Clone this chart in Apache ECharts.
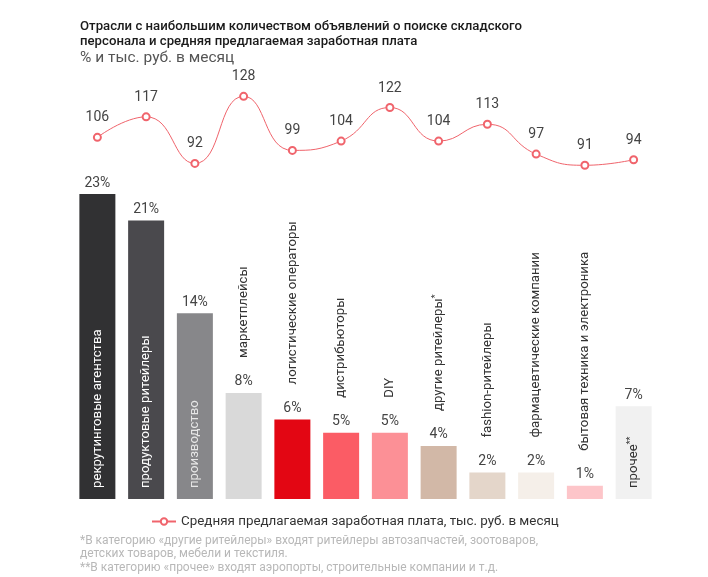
<!DOCTYPE html>
<html>
<head>
<meta charset="utf-8">
<script src="https://cdn.jsdelivr.net/npm/echarts@6/dist/echarts.min.js"></script>
<style>
  html, body { margin: 0; padding: 0; background: #fff; }
  #main { width: 708px; height: 577px; }
</style>
</head>
<body>
<div id="main"></div>
<script>
// отрасли
var categories = ['рекрутинговые агентства', 'продуктовые ритейлеры', 'производство', 'маркетплейсы',
    'логистические операторы', 'дистрибьюторы', 'DIY', 'другие ритейлеры*', 'fashion-ритейлеры',
    'фармацевтические компании', 'бытовая техника и электроника', 'прочее**'];
// доля объявлений, %
var shares = [23, 21, 14, 8, 6, 5, 5, 4, 2, 2, 1, 7];
// средняя зарплата, тыс. руб.
var salary = [106, 117, 92, 128, 99, 104, 122, 104, 113, 97, 91, 94];
var salaryName = 'Средняя предлагаемая заработная плата, тыс. руб. в месяц';

var barColors = ['#313133', '#4a494d', '#87878a', '#d9d9d9', '#e30613', '#fb5c65',
    '#fc9096', '#d2b8a7', '#e4d6ca', '#f5efe9', '#fdc5c9', '#f1f1f1'];
// подписи внутри столбца и их цвет
var inside = { 0: '#ffffff', 1: '#ffffff', 2: '#e6e6e6', 11: '#333333' };

var font = 'Roboto, "Noto Sans", sans-serif';

function nameLabel(name) {
    //звёздочки делаем надстрочными
    var m = name.match(/^(.*?)(\*+)$/);
    if (m) return m[1] + '{sup|' + m[2] + '}';
    return name;
}

var barData = shares.map(function (v, i) {
    return { value: v, itemStyle: { color: barColors[i] } };
});

var nameData = shares.map(function (v, i) {
    var lab;
    if (inside[i] !== undefined) {
        lab = { position: 'insideBottom', distance: 11, color: inside[i] };
    } else {
        lab = { position: 'top', distance: 35, color: '#333' };
    }
    return { value: v, label: lab };
});

var myChart = echarts.init(document.getElementById('main'));

var option = {
    backgroundColor: '#fff',
    animation: false,
    title: {
        text: 'Отрасли с наибольшим количеством объявлений о поиске складского\nперсонала и средняя предлагаемая заработная плата',
        subtext: '% и тыс. руб. в месяц',
        left: 75,
        top: 14,
        itemGap: 1,
        textStyle: { fontFamily: font, fontSize: 13.2, fontWeight: 500, color: '#1a1a1a', lineHeight: 15 },
        subtextStyle: { fontFamily: font, fontSize: 15.5, color: '#555', lineHeight: 16 }
    },
    legend: {
        data: [salaryName],
        left: 146,
        top: 510,
        itemWidth: 24,
        itemHeight: 8,
        itemGap: 4,
        textStyle: { fontFamily: font, fontSize: 13.4, color: '#333' }
    },
    grid: [
        { left: 73, right: 50, top: 167.5, bottom: 78 },
        { left: 73, right: 50, top: 92.6, bottom: 391.2 }
    ],
    xAxis: [
        { type: 'category', data: categories, gridIndex: 0, show: false },
        { type: 'category', data: categories, gridIndex: 1, show: false }
    ],
    yAxis: [
        { type: 'value', gridIndex: 0, min: 0, max: 25, show: false },
        { type: 'value', gridIndex: 1, min: 80, max: 130, show: false }
    ],
    graphic: [{
        type: 'text',
        left: 80,
        top: 534,
        style: {
            text: '*В категорию «другие ритейлеры» входят ритейлеры автозапчастей, зоотоваров,\nдетских товаров, мебели и текстиля.\n**В категорию «прочее» входят аэропорты, строительные компании и т.д.',
            font: '12px ' + font,
            fill: '#b8b8b8',
            lineHeight: 13.5
        }
    }],
    series: [
        {
            type: 'bar',
            xAxisIndex: 0,
            yAxisIndex: 0,
            barWidth: 36,
            data: barData,
            label: {
                show: true,
                position: 'top',
                distance: 4,
                formatter: '{c}%',
                fontFamily: font,
                fontSize: 14,
                color: '#444'
            }
        },
        {
            // подписи названий
            type: 'bar',
            xAxisIndex: 0,
            yAxisIndex: 0,
            barWidth: 36,
            barGap: '-100%',
            silent: true,
            itemStyle: { color: 'rgba(0,0,0,0)' },
            data: nameData,
            label: {
                show: true,
                rotate: 90,
                align: 'left',
                verticalAlign: 'middle',
                fontFamily: font,
                fontSize: 13.2,
                formatter: function (p) { return nameLabel(categories[p.dataIndex]); },
                rich: {
                    sup: { fontSize: 9, verticalAlign: 'top', padding: [0, 0, 6, 0] }
                }
            }
        },
        {
            name: salaryName,
            type: 'line',
            xAxisIndex: 1,
            yAxisIndex: 1,
            data: salary,
            smooth: 0.5,
            symbol: 'emptyCircle',
            symbolSize: 7,
            lineStyle: { color: '#f0646c', width: 1 },
            itemStyle: { color: '#f0646c', borderWidth: 1 },
            label: {
                show: true,
                position: 'top',
                distance: 8,
                fontFamily: font,
                fontSize: 14,
                color: '#444'
            }
        }
    ]
};
myChart.setOption(option);
</script>
</body>
</html>
